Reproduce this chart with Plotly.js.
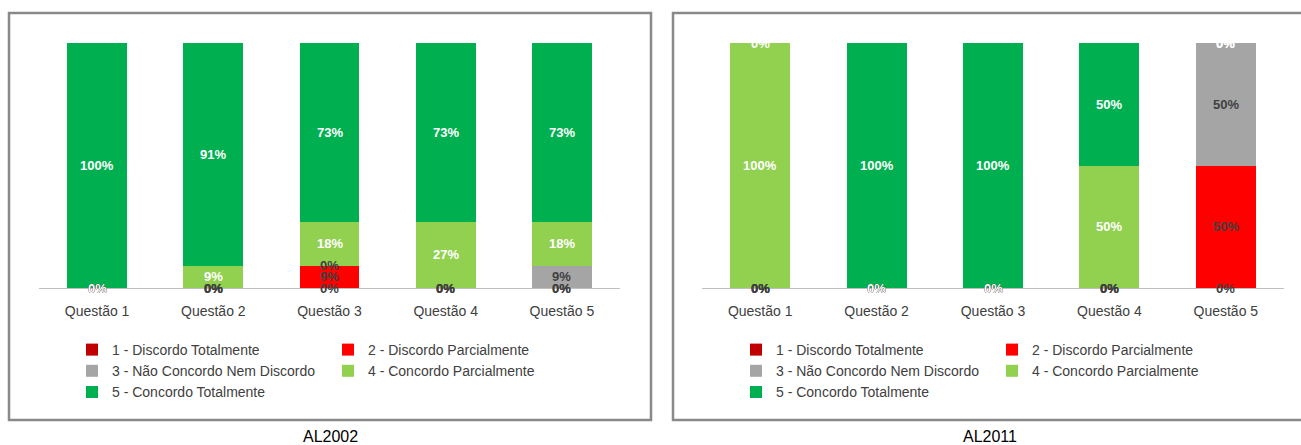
<!DOCTYPE html>
<html>
<head>
<meta charset="utf-8">
<script src="https://cdn.plot.ly/plotly-3.0.1.min.js"></script>
<style>html,body{margin:0;padding:0;background:#fff;}#chart{width:1301px;height:445px;}</style>
</head>
<body>
<div id="chart"></div>
<script>
const categories = ["Questão 1", "Questão 2", "Questão 3", "Questão 4", "Questão 5"];
const seriesNames = ["1 - Discordo Totalmente", "2 - Discordo Parcialmente", "3 - Não Concordo Nem Discordo", "4 - Concordo Parcialmente", "5 - Concordo Totalmente"];
const seriesColors = ["#C00000", "#FF0000", "#A5A5A5", "#92D050", "#00B050"];
const labelColors = ["#404040", "#404040", "#404040", "#FFFFFF", "#FFFFFF"];

// AL2002 values (%) per series
const al2002_s1 = [0, 0, 0, 0, 0];
const al2002_s2 = [0, 0, 9, 0, 0];
const al2002_s3 = [0, 0, 0, 0, 9];
const al2002_s4 = [0, 9, 18, 27, 18];
const al2002_s5 = [100, 91, 73, 73, 73];

// AL2011 values (%) per series
const al2011_s1 = [0, 0, 0, 0, 0];
const al2011_s2 = [0, 0, 0, 0, 50];
const al2011_s3 = [0, 0, 0, 0, 50];
const al2011_s4 = [100, 0, 0, 50, 0];
const al2011_s5 = [0, 100, 100, 50, 0];

const chartTitles = ["AL2002", "AL2011"];

const W = 1301, H = 445;
const px = v => v / W;
const py = v => 1 - v / H;

const charts = [
  {series: [al2002_s1, al2002_s2, al2002_s3, al2002_s4, al2002_s5], xa: "x", ya: "y", legs: ["legend", "legend2"]},
  {series: [al2011_s1, al2011_s2, al2011_s3, al2011_s4, al2011_s5], xa: "x2", ya: "y2", legs: ["legend3", "legend4"]}
];

const traces = [];
const annotations = [];
charts.forEach((c, ci) => {
  c.series.forEach((vals, si) => {
    traces.push({
      type: "bar",
      name: seriesNames[si],
      x: categories,
      y: vals,
      xaxis: c.xa,
      yaxis: c.ya,
      marker: {color: seriesColors[si]},
      legend: (si % 2 === 0) ? c.legs[0] : c.legs[1],
      hoverinfo: "skip",
      showlegend: true
    });
  });
  categories.forEach((cat, k) => {
    let cum = 0;
    c.series.forEach((vals, si) => {
      const v = vals[k];
      annotations.push({
        xref: c.xa, yref: c.ya, x: cat, y: cum + v / 2,
        text: "<b>" + v + "%</b>", showarrow: false,
        font: {family: "Liberation Sans, Arial, sans-serif", size: 13, color: labelColors[si]},
        xanchor: "center", yanchor: "middle"
      });
      cum += v;
    });
  });
});

// chart titles under the panels
annotations.push({xref: "paper", yref: "paper", x: px(330), y: py(436), text: chartTitles[0], showarrow: false,
  font: {family: "Liberation Sans, Arial, sans-serif", size: 16, color: "#000"}, xanchor: "center", yanchor: "middle"});
annotations.push({xref: "paper", yref: "paper", x: px(990), y: py(436), text: chartTitles[1], showarrow: false,
  font: {family: "Liberation Sans, Arial, sans-serif", size: 16, color: "#000"}, xanchor: "center", yanchor: "middle"});

const legendBase = {
  orientation: "v", xanchor: "left", yanchor: "top", y: py(334),
  bgcolor: "rgba(0,0,0,0)", borderwidth: 0, traceorder: "normal",
  font: {family: "Liberation Sans, Arial, sans-serif", size: 14, color: "#404040"},
  itemclick: false, itemdoubleclick: false
};

const axisX = {
  type: "category", showgrid: false, zeroline: false, showline: true, linecolor: "#BFBFBF", linewidth: 1,
  ticks: "", ticklabelstandoff: 10,
  tickfont: {family: "Liberation Sans, Arial, sans-serif", size: 14, color: "#404040"}, fixedrange: true
};
const axisY = {range: [0, 100], visible: false, showgrid: false, zeroline: false, fixedrange: true};

const layout = {
  width: W, height: H,
  margin: {l: 0, r: 0, t: 0, b: 0},
  paper_bgcolor: "#fff", plot_bgcolor: "#fff",
  barmode: "stack", bargap: 0.485,
  showlegend: true,
  xaxis: Object.assign({}, axisX, {domain: [px(39), px(620)], anchor: "y"}),
  yaxis: Object.assign({}, axisY, {domain: [1 - 288 / H, 1 - 43 / H], anchor: "x"}),
  xaxis2: Object.assign({}, axisX, {domain: [px(702), px(1284)], anchor: "y2"}),
  yaxis2: Object.assign({}, axisY, {domain: [1 - 288 / H, 1 - 43 / H], anchor: "x2"}),
  legend: Object.assign({}, legendBase, {x: px(72)}),
  legend2: Object.assign({}, legendBase, {x: px(328)}),
  legend3: Object.assign({}, legendBase, {x: px(736)}),
  legend4: Object.assign({}, legendBase, {x: px(992)}),
  annotations: annotations,
  shapes: [
    {type: "rect", xref: "paper", yref: "paper", x0: px(9), x1: px(651), y0: py(420), y1: py(13), line: {color: "#898989", width: 2.5}, fillcolor: "rgba(0,0,0,0)"},
    {type: "rect", xref: "paper", yref: "paper", x0: px(673), x1: px(1304), y0: py(420), y1: py(13), line: {color: "#898989", width: 2.5}, fillcolor: "rgba(0,0,0,0)"}
  ]
};

Plotly.newPlot("chart", traces, layout, {displayModeBar: false, staticPlot: true});
</script>
</body>
</html>
